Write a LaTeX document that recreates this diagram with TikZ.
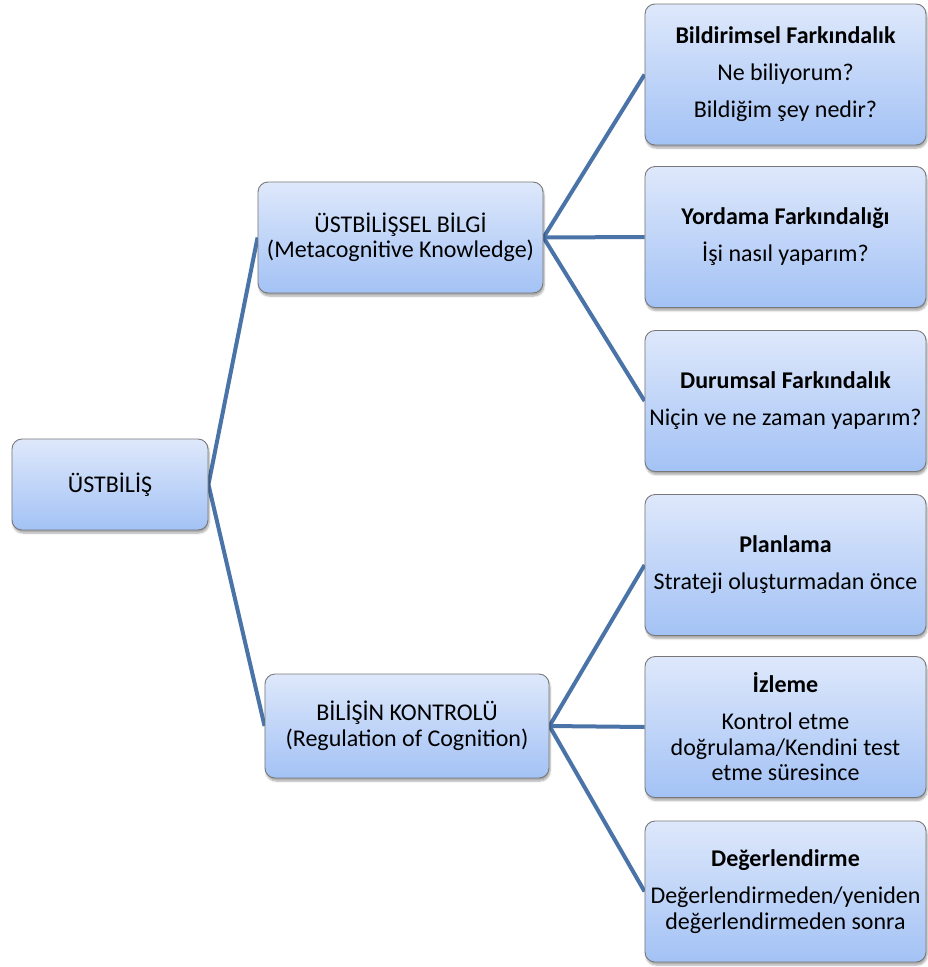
\documentclass[tikz,border=0pt]{standalone}
\usepackage{fontspec}
\setmainfont{Carlito}
\usetikzlibrary{shadows.blur,backgrounds}
\definecolor{boxtop}{RGB}{222,232,251}
\definecolor{boxbot}{RGB}{163,194,245}
\definecolor{boxline}{RGB}{120,120,120}
\definecolor{linkblue}{RGB}{74,115,168}
\begin{document}
\begin{tikzpicture}[x=1pt,y=-1pt,
  box/.style={draw=boxline, line width=0.9pt, rounded corners=10pt,
    top color=boxtop, bottom color=boxbot, align=center, inner sep=0pt,
    font=\fontsize{24}{25.5}\selectfont,
    blur shadow={shadow xshift=1pt, shadow yshift=-3pt, shadow blur steps=6, shadow opacity=35}},
  rootbox/.style={box, minimum width=196pt, minimum height=91pt},
  midbox/.style={box, minimum width=285pt, minimum height=108pt},
  leafbox/.style={box, minimum width=281pt, minimum height=141pt},
  link/.style={draw=linkblue, line width=4pt}]
\useasboundingbox (0,0) rectangle (928,967);

% tree boxes
\node[rootbox] (root) at (110,484.5) {ÜSTBİLİŞ};
\node[midbox, minimum height=111pt] (know) at (400.5,237.5)
  {ÜSTBİLİŞSEL BİLGİ\\(Metacognitive Knowledge)};
\node[midbox, minimum width=284pt, minimum height=104pt] (reg) at (407,726)
  {BİLİŞİN KONTROLÜ\\(Regulation of Cognition)};

\node[leafbox] (decl) at (785.5,74.5)
  {\textbf{Bildirimsel Farkındalık}\\[11.5pt]Ne biliyorum?\\[11.5pt]Bildiğim şey nedir?};
\node[leafbox] (proc) at (785.5,237)
  {\textbf{Yordama Farkındalığı}\\[11.5pt]İşi nasıl yaparım?};
\node[leafbox] (cond) at (785.5,401)
  {\textbf{Durumsal Farkındalık}\\[11.5pt]Niçin ve ne zaman yaparım?};
\node[leafbox] (plan) at (785.5,565)
  {\textbf{Planlama}\\[11.5pt]Strateji oluşturmadan önce};
\node[leafbox] (moni) at (785.5,727)
  {\textbf{İzleme}\\[11.5pt]Kontrol etme\\doğrulama/Kendini test\\etme süresince};
\node[leafbox] (eval) at (785.5,891.5)
  {\textbf{Değerlendirme}\\[11.5pt]Değerlendirmeden/yeniden\\değerlendirmeden sonra};

% connectors behind the boxes
\begin{pgfonlayer}{background}
\draw[link] (know.west) -- (root.east) -- (reg.west);
\draw[link] (decl.west) -- (know.east) -- (cond.west);
\draw[link] (know.east) -- (proc.west);
\draw[link] (plan.west) -- (reg.east) -- (eval.west);
\draw[link] (reg.east) -- (moni.west);
\end{pgfonlayer}
\end{tikzpicture}
\end{document}
